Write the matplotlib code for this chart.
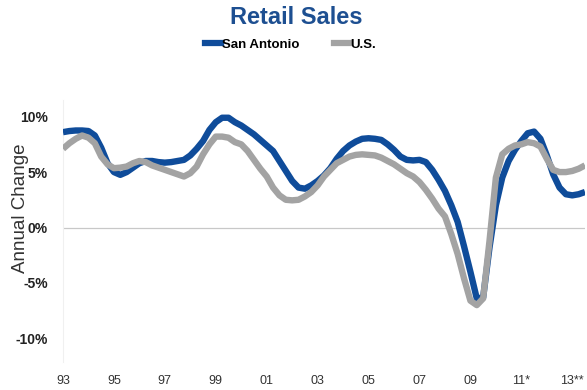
import matplotlib
matplotlib.use("Agg")
import matplotlib.pyplot as plt
from matplotlib.lines import Line2D
import numpy as np

plt.rcParams['font.family'] = ['Liberation Sans', 'DejaVu Sans']

# quarterly, 1993 Q1 through 2013 Q3
quarters = np.arange(1993.0, 2013.51, 0.25)

san_antonio = [
    8.6, 8.7, 8.75, 8.75,   # 1993
    8.7, 8.3, 7.2, 5.8,     # 1994
    5.0, 4.75, 5.0, 5.4,    # 1995
    5.8, 6.0, 6.0, 5.9,     # 1996
    5.85, 5.9, 6.0, 6.1,    # 1997
    6.5, 7.1, 7.8, 8.8,     # 1998
    9.5, 9.9, 9.9, 9.5,     # 1999
    9.2, 8.8, 8.4, 7.9,     # 2000
    7.4, 6.9, 6.0, 5.1,     # 2001
    4.2, 3.6, 3.5, 3.8,     # 2002
    4.2, 4.7, 5.35, 6.2,    # 2003
    6.9, 7.4, 7.75, 8.0,    # 2004
    8.05, 8.0, 7.9, 7.5,    # 2005
    7.0, 6.4, 6.1, 6.05,    # 2006
    6.1, 5.9, 5.2, 4.3,     # 2007
    3.3, 2.0, 0.5, -1.7,    # 2008
    -4.0, -6.4, -6.3, -1.8, # 2009
    2.0, 4.5, 6.0, 7.0,     # 2010
    7.8, 8.5, 8.65, 8.0,    # 2011
    6.5, 4.8, 3.6, 3.0,     # 2012
    2.9, 3.0, 3.2,          # 2013
]

us = [
    7.1, 7.6, 8.0, 8.3,     # 1993
    8.1, 7.6, 6.4, 5.7,     # 1994
    5.35, 5.4, 5.5, 5.8,    # 1995
    6.0, 5.9, 5.6, 5.4,     # 1996
    5.2, 5.0, 4.8, 4.6,     # 1997
    4.9, 5.5, 6.6, 7.5,     # 1998
    8.2, 8.2, 8.1, 7.7,     # 1999
    7.5, 6.9, 6.1, 5.3,     # 2000
    4.6, 3.6, 2.9, 2.5,     # 2001
    2.45, 2.5, 2.8, 3.2,    # 2002
    3.8, 4.6, 5.2, 5.8,     # 2003
    6.1, 6.4, 6.55, 6.6,    # 2004
    6.55, 6.5, 6.3, 6.0,    # 2005
    5.7, 5.3, 4.9, 4.6,     # 2006
    4.1, 3.4, 2.6, 1.7,     # 2007
    1.0, -0.6, -2.4, -4.6,  # 2008
    -6.6, -7.0, -6.4, -1.2, # 2009
    4.5, 6.6, 7.1, 7.4,     # 2010
    7.5, 7.7, 7.6, 7.3,     # 2011
    6.2, 5.2, 5.0, 5.0,     # 2012
    5.1, 5.3, 5.6,          # 2013
]

tick_years = [1993, 1995, 1997, 1999, 2001, 2003, 2005, 2007, 2009, 2011, 2013]
tick_labels = ['93', '95', '97', '99', '01', '03', '05', '07', '09', '11*', '13**']
y_ticks = [-10, -5, 0, 5, 10]
y_labels = ['-10%', '-5%', '0%', '5%', '10%']

blue = '#0F4C9A'
gray = '#A3A3A3'
title_blue = '#1D4F91'

fig = plt.figure(figsize=(5.87, 3.9), dpi=100)
ax = fig.add_axes([63 / 587, 1 - 362 / 390, 522 / 587, 262 / 390])

ax.plot(quarters, san_antonio, color=blue, lw=4.6, solid_capstyle='butt',
        solid_joinstyle='round', zorder=3)
ax.plot(quarters, us, color=gray, lw=4.6, solid_capstyle='butt',
        solid_joinstyle='round', zorder=4)
ax.axhline(0, color='#C8C8C8', lw=0.9, zorder=1)

ax.set_xlim(1993.0, 2013.5)
ax.set_ylim(-12.13, 11.5)

ax.set_xticks(tick_years)
ax.set_xticklabels(tick_labels, fontsize=9, color='#333333')
ax.set_yticks(y_ticks)
ax.set_yticklabels(y_labels, fontsize=10, fontweight='bold', color='#222222')
ax.tick_params(axis='x', length=0, pad=9)
ax.tick_params(axis='y', length=0, pad=11)
ax.set_ylabel('Annual Change', fontsize=13.5, color='#333333')
ax.yaxis.set_label_coords(-0.066, 0.585)

for side in ['top', 'right', 'bottom']:
    ax.spines[side].set_visible(False)
ax.spines['left'].set_color('#F0F0F0')
ax.spines['left'].set_linewidth(0.8)

fig.text(0.505, 1 - 18 / 390, 'Retail Sales', ha='center', va='center',
         fontsize=17, fontweight='bold', color=title_blue)

handles = [Line2D([], [], color=blue, lw=4.5), Line2D([], [], color=gray, lw=4.5)]
fig.legend(handles, ['San Antonio', 'U.S.'], loc='center',
           bbox_to_anchor=(0.495, 1 - 45 / 390), ncol=2, frameon=False,
           prop={'weight': 'bold', 'size': 9.5}, handlelength=1.2,
           handletextpad=0.1, columnspacing=2.6)

fig.savefig('out.png', dpi=100)
